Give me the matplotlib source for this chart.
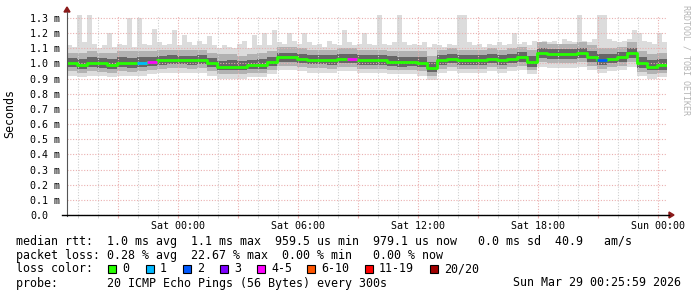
import matplotlib
matplotlib.use("Agg")
import matplotlib.pyplot as plt
import matplotlib.dates as mdates
from matplotlib.lines import Line2D
from matplotlib.patches import Polygon, Rectangle
from matplotlib.ticker import FuncFormatter
import numpy as np
import pandas as pd

# ---------------- data (ms) ----------------
start_time = "2026-03-27 18:26"
n_samples = 60          # 30-minute samples
n_max_samples = 120     # 15-minute samples for the ping maximum

median = [1.00, 0.99, 1.00, 1.00, 0.99, 1.00, 1.00, 1.00, 1.01, 1.02,
          1.02, 1.02, 1.02, 1.02, 1.00, 0.98, 0.98, 0.98, 0.99, 0.99,
          1.01, 1.04, 1.04, 1.03, 1.02, 1.02, 1.02, 1.03, 1.03, 1.02,
          1.02, 1.02, 1.01, 1.01, 1.01, 1.00, 0.97, 1.02, 1.03, 1.02,
          1.02, 1.02, 1.03, 1.02, 1.03, 1.04, 1.01, 1.07, 1.06, 1.06,
          1.06, 1.07, 1.04, 1.02, 1.03, 1.04, 1.07, 1.00, 0.98, 0.99]

ping_min = [0.92, 0.91, 0.92, 0.92, 0.91, 0.92, 0.92, 0.92, 0.93, 0.94,
            0.94, 0.94, 0.94, 0.94, 0.92, 0.90, 0.90, 0.90, 0.91, 0.91,
            0.93, 0.96, 0.96, 0.95, 0.94, 0.94, 0.94, 0.95, 0.95, 0.94,
            0.94, 0.94, 0.93, 0.93, 0.93, 0.92, 0.89, 0.94, 0.95, 0.94,
            0.94, 0.94, 0.95, 0.94, 0.95, 0.96, 0.93, 0.98, 0.97, 0.97,
            0.97, 0.98, 0.96, 0.94, 0.95, 0.96, 0.98, 0.92, 0.90, 0.91]

ping_p10 = [0.95, 0.94, 0.95, 0.945, 0.94, 0.95, 0.945, 0.95, 0.96, 0.965,
            0.97, 0.97, 0.965, 0.97, 0.95, 0.93, 0.93, 0.93, 0.94, 0.94,
            0.96, 0.985, 0.985, 0.98, 0.97, 0.97, 0.965, 0.975, 0.975, 0.965,
            0.965, 0.965, 0.96, 0.955, 0.96, 0.95, 0.92, 0.965, 0.975, 0.965,
            0.965, 0.965, 0.975, 0.965, 0.975, 0.985, 0.955, 1.01, 1.00, 1.005,
            1.005, 1.01, 0.985, 0.965, 0.975, 0.985, 1.01, 0.945, 0.93, 0.935]

ping_p25 = [0.975, 0.965, 0.975, 0.97, 0.965, 0.975, 0.97, 0.975, 0.985, 0.99,
            0.995, 0.995, 0.99, 0.995, 0.975, 0.955, 0.955, 0.955, 0.965, 0.965,
            0.985, 1.01, 1.01, 1.005, 0.995, 0.995, 0.99, 1.00, 1.00, 0.99,
            0.99, 0.99, 0.985, 0.98, 0.985, 0.975, 0.945, 0.99, 1.00, 0.99,
            0.99, 0.99, 1.00, 0.99, 1.00, 1.01, 0.98, 1.035, 1.03, 1.03,
            1.03, 1.035, 1.01, 0.99, 1.00, 1.01, 1.035, 0.97, 0.955, 0.96]

ping_p75 = [1.035, 1.03, 1.04, 1.035, 1.03, 1.04, 1.035, 1.04, 1.045, 1.05,
            1.055, 1.05, 1.05, 1.055, 1.035, 1.015, 1.02, 1.015, 1.025, 1.03,
            1.045, 1.07, 1.07, 1.065, 1.055, 1.055, 1.055, 1.065, 1.06, 1.055,
            1.055, 1.055, 1.05, 1.045, 1.045, 1.04, 1.01, 1.055, 1.065, 1.055,
            1.055, 1.055, 1.065, 1.055, 1.065, 1.075, 1.05, 1.10, 1.095, 1.095,
            1.095, 1.10, 1.08, 1.06, 1.065, 1.075, 1.10, 1.04, 1.02, 1.03]

ping_p90 = [1.07, 1.07, 1.08, 1.07, 1.07, 1.08, 1.08, 1.08, 1.08, 1.09,
            1.09, 1.09, 1.09, 1.09, 1.07, 1.06, 1.06, 1.05, 1.06, 1.07,
            1.08, 1.11, 1.11, 1.10, 1.09, 1.09, 1.09, 1.10, 1.10, 1.09,
            1.09, 1.09, 1.08, 1.08, 1.08, 1.08, 1.05, 1.09, 1.10, 1.09,
            1.09, 1.09, 1.10, 1.09, 1.10, 1.11, 1.09, 1.14, 1.13, 1.13,
            1.13, 1.14, 1.12, 1.10, 1.10, 1.11, 1.14, 1.08, 1.06, 1.07]

ping_max = [1.12, 1.11, 1.32, 1.14, 1.32, 1.13, 1.10, 1.12, 1.20, 1.11,
            1.13, 1.12, 1.30, 1.11, 1.30, 1.13, 1.12, 1.23, 1.14, 1.12,
            1.13, 1.22, 1.12, 1.19, 1.14, 1.12, 1.15, 1.13, 1.18, 1.12,
            1.10, 1.12, 1.11, 1.10, 1.13, 1.15, 1.10, 1.19, 1.12, 1.20,
            1.12, 1.22, 1.14, 1.13, 1.20, 1.15, 1.13, 1.20, 1.14, 1.12,
            1.13, 1.11, 1.15, 1.13, 1.12, 1.22, 1.14, 1.12, 1.13, 1.20,
            1.13, 1.12, 1.33, 1.13, 1.12, 1.14, 1.33, 1.14, 1.12, 1.13,
            1.12, 1.14, 1.11, 1.13, 1.12, 1.11, 1.13, 1.12, 1.33, 1.33,
            1.14, 1.12, 1.13, 1.11, 1.13, 1.12, 1.14, 1.12, 1.13, 1.20,
            1.13, 1.14, 1.12, 1.15, 1.13, 1.15, 1.14, 1.15, 1.13, 1.16,
            1.15, 1.14, 1.33, 1.15, 1.14, 1.16, 1.33, 1.33, 1.16, 1.15,
            1.14, 1.15, 1.16, 1.22, 1.20, 1.15, 1.14, 1.13, 1.20, 1.14]

loss = [0, 0, 0, 0, 0, 0, 0, 1, 4, 0,
        0, 0, 0, 0, 0, 0, 0, 0, 0, 0,
        0, 0, 0, 0, 0, 0, 0, 0, 4, 0,
        0, 0, 0, 0, 0, 0, 0, 0, 0, 0,
        0, 0, 0, 0, 0, 0, 0, 0, 0, 0,
        0, 0, 0, 2, 0, 0, 0, 0, 0, 0]

loss_labels = ["0", "1", "2", "3", "4-5", "6-10", "11-19", "20/20"]
loss_colors = ["#26ff00", "#00b8ff", "#0059ff", "#7e00ff", "#ff00ff",
               "#ff5500", "#ff0000", "#a00000"]
loss_bucket = {0: 0, 1: 1, 2: 2, 3: 3, 4: 4, 5: 4}

ytick_values = [round(0.1 * k, 1) for k in range(14)]

legend_rtt = "median rtt:  1.0 ms avg  1.1 ms max  959.5 us min  979.1 us now   0.0 ms sd  40.9   am/s"
legend_loss = "packet loss: 0.28 % avg  22.67 % max  0.00 % min   0.00 % now"
legend_probe = "probe:       20 ICMP Echo Pings (56 Bytes) every 300s"
stamp = "Sun Mar 29 00:25:59 2026"

# ---------------- figure ----------------
W, H = 697, 297
fig = plt.figure(figsize=(W / 100, H / 100), dpi=100)
fig.patch.set_facecolor("white")
MONO = "DejaVu Sans Mono"


def fx(x):
    return x / W


def fy(y):
    return 1 - y / H


ax = fig.add_axes([fx(67), fy(215), 600 / W, 200 / H])
ax.set_facecolor("white")

edges = pd.date_range(start_time, periods=n_samples + 1, freq="30min")
edges_max = pd.date_range(start_time, periods=n_max_samples + 1, freq="15min")


def ext(a):
    a = list(a)
    return np.array(a + [a[-1]])


def upsample(a):
    return np.repeat(np.array(a), 2)


# outer envelope (min .. max) on the finer grid
ax.fill_between(edges_max, ext(upsample(ping_min)), ext(ping_max), step="post",
                color="#dcdcdc", lw=0, zorder=0.2)
ax.fill_between(edges, ext(ping_p10), ext(ping_p90), step="post",
                color="#b2b2b2", lw=0, zorder=0.3)
ax.fill_between(edges, ext(ping_p25), ext(ping_p75), step="post",
                color="#666666", lw=0, zorder=0.4)

ax.step(edges, ext(median), where="post", color=loss_colors[0], lw=2.0,
        zorder=3, solid_capstyle="butt")
for i, l in enumerate(loss):
    if l:
        ax.hlines(median[i], edges[i], edges[i + 1],
                  colors=loss_colors[loss_bucket[l]], lw=2.0, zorder=4)

ax.set_xlim(edges[0], edges[-1])
ax.set_ylim(0, 1.32)

# grid
ax.set_axisbelow(True)
ax.xaxis.set_major_locator(mdates.HourLocator(byhour=range(0, 24, 3)))
ax.xaxis.set_minor_locator(mdates.HourLocator())


def xfmt(v, pos):
    d = mdates.num2date(v)
    return d.strftime("%a %H:%M") if d.hour % 6 == 0 else ""


ax.xaxis.set_major_formatter(FuncFormatter(xfmt))
ax.set_yticks(ytick_values)
ax.set_yticklabels([("%.1f m" % v) if v > 0 else "0.0" for v in ytick_values])

dots = (0, (1, 1.5))
ax.grid(True, which="major", axis="both", color="#eab0b0", lw=0.8, linestyle=dots)
ax.grid(True, which="minor", axis="x", color="#cfcfcf", lw=0.8, linestyle=dots)

for s in ax.spines.values():
    s.set_visible(False)

ax.tick_params(axis="y", which="both", length=0, pad=26.6, labelsize=7.2)
for lab in ax.get_yticklabels():
    lab.set_ha("left")
    lab.set_family(MONO)
ax.tick_params(axis="x", which="major", length=2.5, color="#eab0b0",
               direction="out", pad=1.5, labelsize=7.2)
ax.tick_params(axis="x", which="minor", length=2.0, color="#cfcfcf",
               direction="out")
for lab in ax.get_xticklabels():
    lab.set_family(MONO)

# axes lines and arrows
fig.add_artist(Line2D([fx(67), fx(67)], [fy(216), fy(12)], color="#555555",
                      lw=0.8, transform=fig.transFigure))
fig.add_artist(Line2D([fx(62), fx(669)], [fy(215), fy(215)], color="black",
                      lw=1.0, transform=fig.transFigure))
fig.add_artist(Polygon([[fx(669), fy(212)], [fx(674), fy(215)], [fx(669), fy(218)]],
                       closed=True, color="#8b1a1a", transform=fig.transFigure))
fig.add_artist(Polygon([[fx(64), fy(12)], [fx(67), fy(7)], [fx(70), fy(12)]],
                       closed=True, color="#8b1a1a", transform=fig.transFigure))

# labels
fig.text(fx(10), fy(114), "Seconds", rotation=90, ha="center", va="center",
         family=MONO, size=8.4)
fig.text(fx(686), fy(60), "RRDTOOL / TOBI OETIKER", rotation=270, ha="center",
         va="center", family=MONO, size=6.0, color="#b4b4b4")

# legend lines
LS = 8.4
fig.text(fx(16), fy(241), legend_rtt, ha="left", va="center", family=MONO, size=LS)
fig.text(fx(16), fy(255), legend_loss, ha="left", va="center", family=MONO, size=LS)
fig.text(fx(16), fy(269), "loss color:", ha="left", va="center", family=MONO, size=LS)
box_x = [108, 146, 183, 220, 257, 307, 365, 430]
for bx, lab, col in zip(box_x, loss_labels, loss_colors):
    fig.add_artist(Rectangle((fx(bx), fy(273)), 8 / W, 8 / H, facecolor=col,
                             edgecolor="black", lw=0.8, transform=fig.transFigure))
    fig.text(fx(bx + 14), fy(269), lab, ha="left", va="center", family=MONO, size=LS)
fig.text(fx(16), fy(283), legend_probe, ha="left", va="center", family=MONO, size=LS)
fig.text(fx(513), fy(283), stamp, ha="left", va="center", family=MONO, size=LS)

fig.savefig("out.png", dpi=100, facecolor="white")
